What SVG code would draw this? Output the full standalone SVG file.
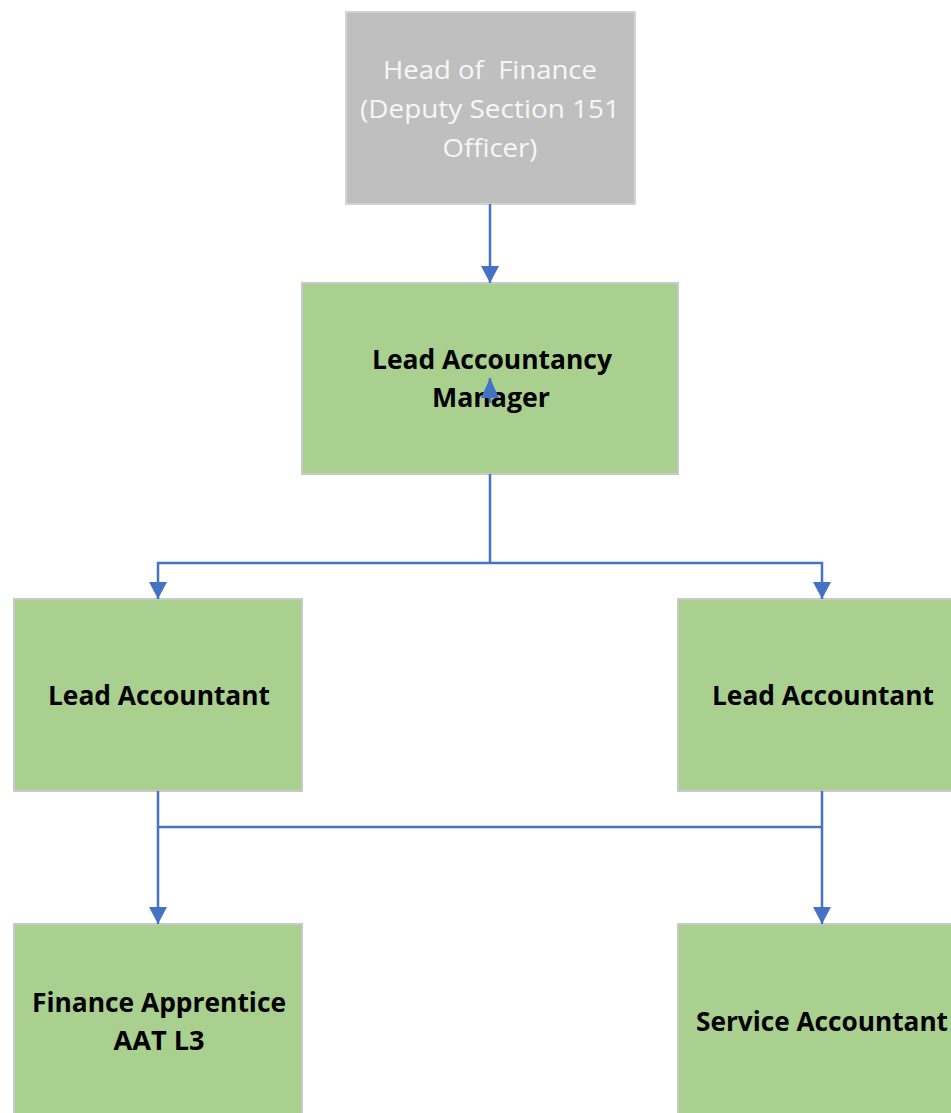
<svg xmlns="http://www.w3.org/2000/svg" width="951" height="1113" viewBox="0 0 951 1113">
<style>
.box{fill:#a9d08e;stroke:#c9c9c9;stroke-width:2}
.grey{fill:#bfbfbf;stroke:#d4d4d4;stroke-width:2}
.t{font-family:"Open Sans","Noto Sans",sans-serif;font-size:26px;font-weight:bold;fill:#000;text-anchor:middle}
.tw{font-family:"Open Sans","Noto Sans",sans-serif;font-size:26px;fill:#f7f7f7;text-anchor:middle;white-space:pre}
.c{fill:none;stroke:#4472c4;stroke-width:2.5}
</style>
<defs>
<marker id="ah2" viewBox="0 0 17 18" refX="17" refY="9" markerWidth="17" markerHeight="18" markerUnits="userSpaceOnUse" orient="auto">
<path d="M0,0 L17,9 L0,18 Z" fill="#4472c4"/>
</marker>
<marker id="ah3" viewBox="0 0 20 18" refX="20" refY="9" markerWidth="20" markerHeight="18" markerUnits="userSpaceOnUse" orient="auto">
<path d="M0,0 L20,9 L0,18 Z" fill="#4472c4"/>
</marker>
</defs>
<g id="head">
<rect class="grey" x="346" y="12" width="289" height="192"/>
<text class="tw" x="490" y="79" textLength="214" lengthAdjust="spacingAndGlyphs" xml:space="preserve">Head of  Finance</text>
<text class="tw" x="490" y="118" textLength="260" lengthAdjust="spacingAndGlyphs">(Deputy Section 151</text>
<text class="tw" x="490" y="157" textLength="95" lengthAdjust="spacingAndGlyphs">Officer)</text>
</g>
<g id="manager">
<rect class="box" x="302" y="283" width="376" height="191"/>
<text class="t" x="492" y="369" textLength="240" lengthAdjust="spacingAndGlyphs">Lead Accountancy</text>
<text class="t" x="491" y="407" textLength="118" lengthAdjust="spacingAndGlyphs">Manager</text>
</g>
<g id="lead-left">
<rect class="box" x="14" y="599" width="288" height="192"/>
<text class="t" x="159" y="705" textLength="222" lengthAdjust="spacingAndGlyphs">Lead Accountant</text>
</g>
<g id="lead-right">
<rect class="box" x="678" y="599" width="280" height="192"/>
<text class="t" x="823" y="705" textLength="222" lengthAdjust="spacingAndGlyphs">Lead Accountant</text>
</g>
<g id="apprentice">
<rect class="box" x="14" y="924" width="288" height="200"/>
<text class="t" x="159" y="1012" textLength="254" lengthAdjust="spacingAndGlyphs">Finance Apprentice</text>
<text class="t" x="159" y="1050" textLength="91" lengthAdjust="spacingAndGlyphs">AAT L3</text>
</g>
<g id="service">
<rect class="box" x="678" y="924" width="280" height="200"/>
<text class="t" x="822" y="1031" textLength="252" lengthAdjust="spacingAndGlyphs">Service Accountant</text>
</g>
<g id="connectors">
<path class="c" d="M490,204 V283" marker-end="url(#ah2)"/>
<path class="c" d="M490,403 V378" marker-end="url(#ah3)"/>
<path class="c" d="M490,474 V563"/>
<path class="c" d="M490,563 H158 V599" marker-end="url(#ah2)"/>
<path class="c" d="M490,563 H822 V599" marker-end="url(#ah2)"/>
<path class="c" d="M158,791 V924" marker-end="url(#ah2)"/>
<path class="c" d="M822,791 V924" marker-end="url(#ah2)"/>
<path class="c" d="M158,827 H822"/>
</g>
</svg>
